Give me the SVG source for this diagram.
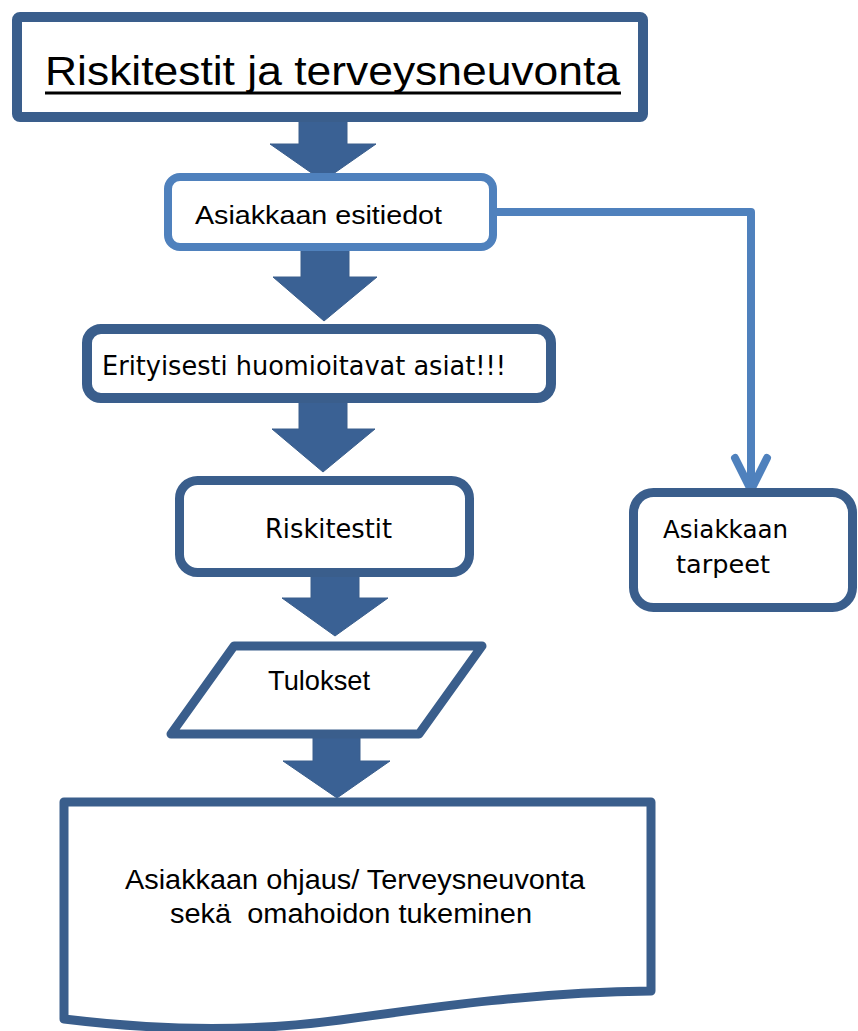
<svg xmlns="http://www.w3.org/2000/svg" width="858" height="1031" viewBox="0 0 858 1031">
  <style>
    .box { fill: #ffffff; stroke: #3a5e8c; stroke-linejoin: round; }
    .boxlight { fill: #ffffff; stroke: #4f81bd; stroke-width: 8; }
    .arrow { fill: #3a6194; stroke: #3a5e8c; stroke-width: 1; stroke-linejoin: miter; }
    .narrow { font-family: "Liberation Sans Narrow", "Liberation Sans", Arial, sans-serif; fill: #000000; }
    .wide { font-family: "DejaVu Sans", "Liberation Sans", sans-serif; fill: #000000; }
    .link { fill: none; stroke: #4f81bd; stroke-width: 8; stroke-linecap: round; stroke-linejoin: round; }
  </style>
  <rect width="858" height="1031" fill="#ffffff"/>

  <!-- connectors: block arrows down the main flow and the side branch -->
  <g id="connectors">
    <polygon class="arrow" points="299,120 347,120 347,144 376,144 323,181 270,144 299,144"/>
    <polygon class="arrow" points="301,249 349,249 349,277 377,277 324,321 273,277 301,277"/>
    <polygon class="arrow" points="299,401 347,401 347,429 375,429 323,472 272,429 299,429"/>
    <polygon class="arrow" points="311,575 359,575 359,598 388,598 335,636 282,598 311,598"/>
    <polygon class="arrow" points="313,736 360,736 360,761 390,761 337,798 283,761 313,761"/>
    <path class="link" d="M497,212 H751 V490"/>
    <path class="link" d="M735,458 L751,490 L767,458"/>
  </g>

  <!-- title -->
  <g id="title">
    <rect class="box" x="17" y="17" width="626" height="100" rx="3" stroke-width="10"/>
    <text class="narrow" x="45" y="85" font-size="41" textLength="575" lengthAdjust="spacingAndGlyphs">Riskitestit ja terveysneuvonta</text>
    <rect x="45" y="91.5" width="576" height="3" fill="#000000"/>
  </g>

  <g id="esitiedot">
    <rect class="boxlight" x="168" y="177" width="325" height="70" rx="12"/>
    <text class="narrow" x="195" y="224" font-size="25" textLength="247" lengthAdjust="spacingAndGlyphs">Asiakkaan esitiedot</text>
  </g>

  <g id="erityisesti">
    <rect class="box" x="87" y="329" width="464" height="69" rx="14" stroke-width="10"/>
    <text class="wide" x="102" y="375" font-size="26" textLength="404" lengthAdjust="spacingAndGlyphs">Erityisesti huomioitavat asiat!!!</text>
  </g>

  <g id="riskitestit">
    <rect class="box" x="179.5" y="480.5" width="290" height="92" rx="18" stroke-width="9"/>
    <text class="wide" x="265" y="538" font-size="26" textLength="127" lengthAdjust="spacingAndGlyphs">Riskitestit</text>
  </g>

  <g id="tarpeet">
    <rect class="box" x="633.5" y="492.5" width="219" height="115" rx="20" stroke-width="9"/>
    <text class="wide" x="663" y="538" font-size="25" textLength="125" lengthAdjust="spacingAndGlyphs">Asiakkaan</text>
    <text class="wide" x="676" y="573" font-size="25" textLength="94" lengthAdjust="spacingAndGlyphs">tarpeet</text>
  </g>

  <g id="tulokset">
    <polygon class="box" points="234,646 482,646 419,734 171,734" stroke-width="9"/>
    <text class="narrow" x="268" y="690" font-size="28" textLength="102" lengthAdjust="spacingAndGlyphs">Tulokset</text>
  </g>

  <g id="ohjaus">
    <path class="box" stroke-width="9" d="M64,802 H651 V991 C540,992 440,1006 340,1020 C260,1031 170,1032 64,1019 Z"/>
    <text class="narrow" x="125" y="889" font-size="27" textLength="460" lengthAdjust="spacingAndGlyphs">Asiakkaan ohjaus/ Terveysneuvonta</text>
    <text class="narrow" x="170" y="923" font-size="27" textLength="362" lengthAdjust="spacingAndGlyphs" xml:space="preserve">sekä  omahoidon tukeminen</text>
  </g>
</svg>
